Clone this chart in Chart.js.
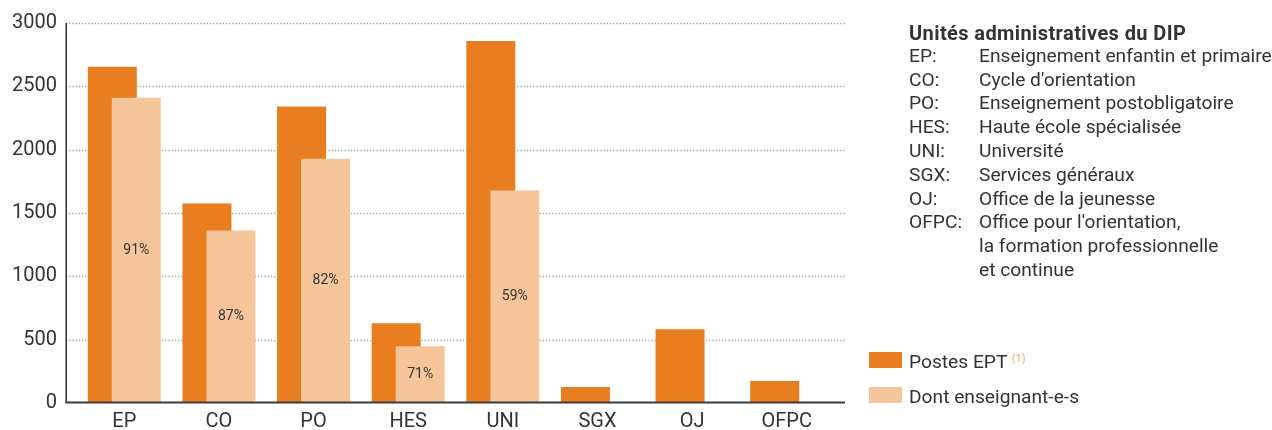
<!DOCTYPE html>
<html><head><meta charset="utf-8">
<script src="https://cdn.jsdelivr.net/npm/chart.js@4.4.1/dist/chart.umd.min.js"></script>
<style>
html,body{margin:0;padding:0;background:#fff;}
#wrap{position:relative;width:1272px;height:430px;overflow:hidden;font-family:Roboto,'Liberation Sans',sans-serif;color:#333;}
#c{position:absolute;left:0;top:0;}
.ln{position:absolute;font-size:19.2px;line-height:24px;white-space:nowrap;}
.ttl{font-weight:bold;font-size:20px;letter-spacing:0.4px;}
.sw{position:absolute;width:33px;height:16px;}
sup{font-size:11px;color:#f3a966;vertical-align:top;position:relative;top:-3px;}
</style></head>
<body><div id="wrap"><canvas id="c" width="1272" height="430"></canvas><div id="panel"></div></div>
<script>
const categories = ['EP','CO','PO','HES','UNI','SGX','OJ','OFPC'];
const postesEPT = [2655, 1575, 2340, 630, 2858, 126, 583, 173];
const enseignants = [2409, 1362, 1929, 449, 1677, null, null, null];
const percentLabels = ['91%','87%','82%','71%','59%', null, null, null];
const yTicks = [0, 500, 1000, 1500, 2000, 2500, 3000];
const panelTitle = 'Unités administratives du DIP';
const abbrevs = ['EP:','CO:','PO:','HES:','UNI:','SGX:','OJ:','OFPC:','',''];
const descriptions = ['Enseignement enfantin et primaire','Cycle d\'orientation','Enseignement postobligatoire','Haute école spécialisée','Université','Services généraux','Office de la jeunesse','Office pour l\'orientation,','la formation professionnelle','et continue'];
const seriesNames = ['Postes EPT','Dont enseignant-e-s'];

const ORANGE = '#e87e1f';
const LIGHT = '#f6c59a';
const TEXT = '#333333';
const FONT = "Roboto,'Liberation Sans',sans-serif";

// right-hand panel
const panel = document.getElementById('panel');
let html = `<div class="ln ttl" style="left:909px;top:20.5px">${panelTitle}</div>`;
abbrevs.forEach((a,i)=>{
  const top = 43.8 + i*23.8;
  if (a) html += `<div class="ln" style="left:909px;top:${top}px">${a}</div>`;
  html += `<div class="ln" style="left:979px;top:${top}px">${descriptions[i]}</div>`;
});
html += `<div class="sw" style="left:869px;top:352px;background:${ORANGE}"></div>`;
html += `<div class="ln" style="left:909px;top:349.8px">${seriesNames[0]} <sup>(1)</sup></div>`;
html += `<div class="sw" style="left:869px;top:387px;background:${LIGHT}"></div>`;
html += `<div class="ln" style="left:909px;top:384.8px">${seriesNames[1]}</div>`;
panel.innerHTML = html;

const EXT = 11;
const decorPlugin = {
  id:'decor',
  beforeDatasetsDraw(chart){
    const {ctx, chartArea:{left,right}, scales:{y}} = chart;
    ctx.save();
    ctx.strokeStyle = '#a3a3a3';
    ctx.lineWidth = 1.3;
    ctx.setLineDash([1.3,1.9]);
    yTicks.forEach(v=>{
      if (v === 0) return;
      const py = Math.round(y.getPixelForValue(v)) + 0.5;
      ctx.beginPath(); ctx.moveTo(left-EXT, py); ctx.lineTo(right+EXT, py); ctx.stroke();
    });
    ctx.restore();
  },
  // skip the light series in the normal pass so it can be drawn on top of the orange one
  beforeDatasetDraw(chart, args){
    if (args.index === 1 && !chart.$drawingLight) return false;
  },
  afterDatasetsDraw(chart){
    const {ctx, chartArea:{left,right,top,bottom}} = chart;
    const meta = chart.getDatasetMeta(1);
    ctx.save();
    ctx.beginPath(); ctx.rect(left-EXT, top-1, right-left+2*EXT, bottom-top+1); ctx.clip();
    chart.$drawingLight = true;
    meta.controller.draw();
    chart.$drawingLight = false;
    ctx.restore();

    ctx.save();
    ctx.fillStyle = TEXT;
    ctx.font = `14px ${FONT}`;
    ctx.textAlign = 'center';
    ctx.textBaseline = 'middle';
    meta.data.forEach((el,i)=>{
      if (!percentLabels[i] || enseignants[i] == null) return;
      ctx.fillText(percentLabels[i], el.x, (el.y + el.base)/2);
    });
    ctx.strokeStyle = '#333';
    ctx.lineWidth = 1.5;
    ctx.beginPath(); ctx.moveTo(left-EXT+0.25, top); ctx.lineTo(left-EXT+0.25, bottom); ctx.stroke();
    ctx.strokeStyle = '#3a3a3a';
    ctx.lineWidth = 2;
    ctx.beginPath(); ctx.moveTo(left-EXT-0.5, bottom-0.5); ctx.lineTo(right+EXT, bottom-0.5); ctx.stroke();
    ctx.restore();
  }
};

new Chart(document.getElementById('c'), {
  type:'bar',
  data:{
    labels: categories,
    datasets:[
      {label:seriesNames[0], data:postesEPT, backgroundColor:ORANGE, categoryPercentage:0.507, barPercentage:2.042, borderWidth:0},
      {label:seriesNames[1], data:enseignants, backgroundColor:LIGHT, categoryPercentage:0.507, barPercentage:2.042, borderWidth:0}
    ]
  },
  options:{
    responsive:false, animation:false, devicePixelRatio:1,
    layout:{padding:{left:0, right:438, top:23, bottom:0}},
    plugins:{legend:{display:false}, tooltip:{enabled:false}},
    scales:{
      x:{
        grid:{display:false, drawTicks:false}, border:{display:false},
        ticks:{font:{family:FONT, size:20}, color:TEXT, padding:7, maxRotation:0},
        afterFit(s){ s.height = 27; s.paddingLeft = 0; s.paddingRight = 0; }
      },
      y:{
        min:0, max:3000,
        afterBuildTicks(s){ s.ticks = yTicks.map(v=>({value:v})); },
        grid:{display:false, drawTicks:false}, border:{display:false},
        ticks:{font:{family:FONT, size:20}, color:TEXT, padding:20, callback:v=>String(v)},
        afterFit(s){ s.width = 77; s.paddingTop = 0; s.paddingBottom = 0; }
      }
    }
  },
  plugins:[decorPlugin]
});
</script></body></html>
